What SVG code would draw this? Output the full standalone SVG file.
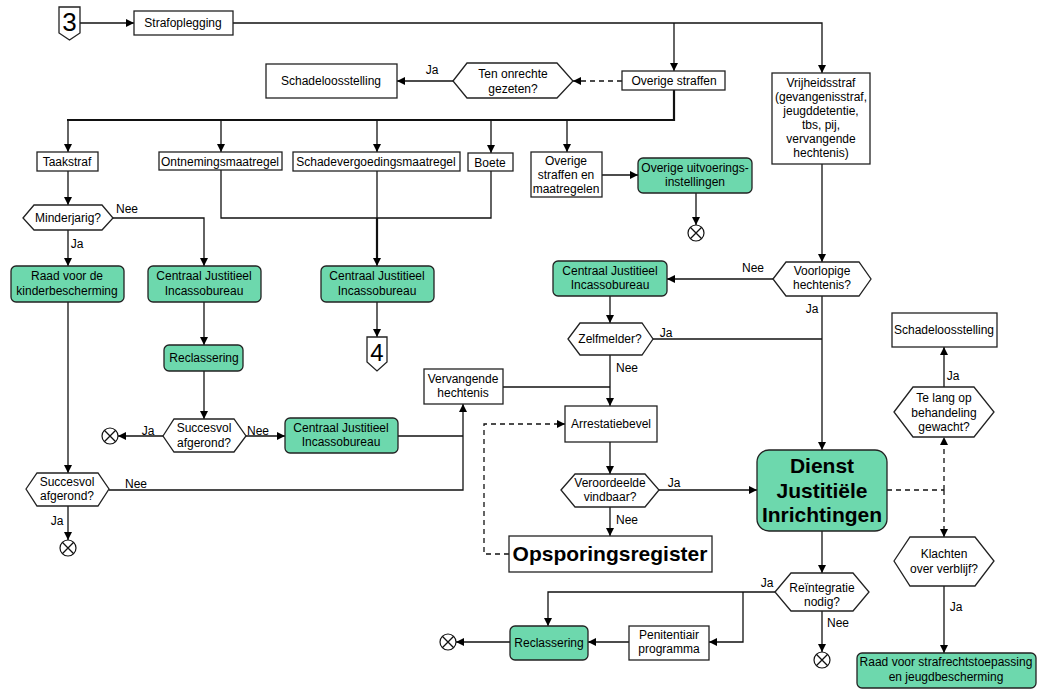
<svg xmlns="http://www.w3.org/2000/svg" width="1046" height="689" viewBox="0 0 1046 689">
<defs>
<marker id="a" viewBox="0 0 10 10" refX="10" refY="5" markerWidth="9" markerHeight="8" markerUnits="userSpaceOnUse" orient="auto"><path d="M0,0 L10,5 L0,10 Z" fill="#000"/></marker>
<style>
text{font-family:"Liberation Sans",Arial,sans-serif;font-size:12px;fill:#000;text-anchor:middle}
.b{fill:#fff;stroke:#222;stroke-width:1.3}
.g{fill:#6dd8ad;stroke:#222;stroke-width:1.3}
.h{fill:#fff;stroke:#222;stroke-width:1.3}
.c{fill:none;stroke:#111;stroke-width:1.3}
.t{fill:none;stroke:#111;stroke-width:2.2}
.d{fill:none;stroke:#111;stroke-width:1.3;stroke-dasharray:5,4}
.big{font-size:21px;font-weight:bold}
.num{font-size:26px}
.end{fill:#fff;stroke:#111;stroke-width:1.2}
</style>
</defs>
<rect width="1046" height="689" fill="#fff"/>
<g id="connectors">
<path class="c" d="M80,23 H134" marker-end="url(#a)"/>
<path class="c" d="M233,23 H822 V73" marker-end="url(#a)"/>
<path class="c" d="M674,23 V71" marker-end="url(#a)"/>
<path class="d" d="M622,81 H573" marker-end="url(#a)"/>
<path class="c" d="M453,81 H397" marker-end="url(#a)"/>
<path class="t" d="M674,90 V120 H67"/>
<path class="c" d="M68,120 V152" marker-end="url(#a)"/>
<path class="c" d="M221,120 V152" marker-end="url(#a)"/>
<path class="c" d="M377,120 V152" marker-end="url(#a)"/>
<path class="c" d="M491,120 V153" marker-end="url(#a)"/>
<path class="c" d="M567,120 V152" marker-end="url(#a)"/>
<path class="c" d="M602,175 H638" marker-end="url(#a)"/>
<path class="c" d="M696,193 V225" marker-end="url(#a)"/>
<path class="c" d="M68,171 V205" marker-end="url(#a)"/>
<path class="c" d="M68,230 V266" marker-end="url(#a)"/>
<path class="c" d="M113,218 H204 V266" marker-end="url(#a)"/>
<path class="c" d="M221,170 V218 H491 V171"/>
<path class="c" d="M377,171 V218"/>
<path class="t" d="M377,218 V262"/>
<path class="c" d="M377,260 V266" marker-end="url(#a)"/>
<path class="c" d="M377,302 V337" marker-end="url(#a)"/>
<path class="c" d="M204,302 V345" marker-end="url(#a)"/>
<path class="c" d="M204,371 V419" marker-end="url(#a)"/>
<path class="c" d="M163,436 H118" marker-end="url(#a)"/>
<path class="c" d="M246,436 H285" marker-end="url(#a)"/>
<path class="c" d="M398,436 H463"/>
<path class="c" d="M109,490 H463 V404" marker-end="url(#a)"/>
<path class="c" d="M68,302 V473" marker-end="url(#a)"/>
<path class="c" d="M68,506 V540" marker-end="url(#a)"/>
<path class="c" d="M503,387 H610"/>
<path class="c" d="M610,355 V406" marker-end="url(#a)"/>
<path class="c" d="M822,164 V262" marker-end="url(#a)"/>
<path class="c" d="M773,279 H667" marker-end="url(#a)"/>
<path class="c" d="M822,296 V450" marker-end="url(#a)"/>
<path class="c" d="M610,296 V323" marker-end="url(#a)"/>
<path class="c" d="M653,339 H822"/>
<path class="c" d="M610,442 V474" marker-end="url(#a)"/>
<path class="c" d="M659,490 H757" marker-end="url(#a)"/>
<path class="c" d="M610,507 V536" marker-end="url(#a)"/>
<path class="d" d="M509,554 H484 V424 H565" marker-end="url(#a)"/>
<path class="d" d="M887,490 H944"/>
<path class="d" d="M944,490 V437" marker-end="url(#a)"/>
<path class="d" d="M944,490 V537" marker-end="url(#a)"/>
<path class="c" d="M944,387 V347" marker-end="url(#a)"/>
<path class="c" d="M944,586 V653" marker-end="url(#a)"/>
<path class="c" d="M822,531 V573" marker-end="url(#a)"/>
<path class="c" d="M775,592 H548 V626" marker-end="url(#a)"/>
<path class="c" d="M743,592 V642 H709" marker-end="url(#a)"/>
<path class="c" d="M629,642 H588" marker-end="url(#a)"/>
<path class="c" d="M510,642 H456" marker-end="url(#a)"/>
<path class="c" d="M822,611 V652" marker-end="url(#a)"/>
<text x="432" y="74">Ja</text>
<text x="127" y="213">Nee</text>
<text x="77" y="248">Ja</text>
<text x="753" y="272">Nee</text>
<text x="812" y="313">Ja</text>
<text x="666" y="337">Ja</text>
<text x="627" y="372">Nee</text>
<text x="674" y="487">Ja</text>
<text x="627" y="524">Nee</text>
<text x="148" y="435">Ja</text>
<text x="258" y="435">Nee</text>
<text x="136" y="488">Nee</text>
<text x="57" y="525">Ja</text>
<text x="953" y="380">Ja</text>
<text x="767" y="587">Ja</text>
<text x="838" y="627">Nee</text>
<text x="956" y="611">Ja</text>
</g>
<g id="n3"><path class="b" d="M59,7 H80 V33 L69.5,40 L59,33 Z"/><text class="num" x="69.5" y="31">3</text></g>
<g id="strafoplegging"><rect class="b" x="134" y="11" width="99" height="24"/><text x="183" y="27">Strafoplegging</text></g>
<g id="schadeloos1"><rect class="b" x="266" y="64" width="131" height="34"/><text x="331" y="85">Schadeloosstelling</text></g>
<g id="tenonrechte"><path class="h" d="M453,81 L467,63 H557 L573,81 L557,98 H467 Z"/><text x="513" y="78">Ten onrechte</text><text x="513" y="93">gezeten?</text></g>
<g id="overigestraffen"><rect class="b" x="622" y="71" width="103" height="19"/><text x="674" y="85">Overige straffen</text></g>
<g id="vrijheidsstraf"><rect class="b" x="772" y="73" width="98" height="91"/>
<text x="821" y="87">Vrijheidsstraf</text><text x="821" y="101">(gevangenisstraf,</text><text x="821" y="115">jeugddetentie,</text><text x="821" y="129">tbs, pij,</text><text x="821" y="143">vervangende</text><text x="821" y="157">hechtenis)</text></g>
<g id="taakstraf"><rect class="b" x="37" y="152" width="61" height="19"/><text x="67" y="166">Taakstraf</text></g>
<g id="ontnemings"><rect class="b" x="159" y="152" width="123" height="18"/><text x="220" y="166">Ontnemingsmaatregel</text></g>
<g id="schadevergoedings"><rect class="b" x="293" y="152" width="167" height="19"/><text x="376" y="166">Schadevergoedingsmaatregel</text></g>
<g id="boete"><rect class="b" x="468" y="153" width="45" height="18"/><text x="490" y="167">Boete</text></g>
<g id="overigemaatregelen"><rect class="b" x="531" y="152" width="71" height="45"/><text x="566" y="165">Overige</text><text x="566" y="179">straffen en</text><text x="566" y="193">maatregelen</text></g>
<g id="overigeuitvoering"><rect class="g" x="638" y="158" width="114" height="35" rx="5"/><text x="695" y="172">Overige uitvoerings-</text><text x="695" y="186">instellingen</text></g>
<g id="end1"><circle class="end" cx="696" cy="233" r="8"/><path class="c" d="M690.3,227.3 L701.7,238.7 M701.7,227.3 L690.3,238.7"/></g>
<g id="minderjarig"><path class="h" d="M23,218 L34,205 H102 L113,218 L102,230 H34 Z"/><text x="68" y="222">Minderjarig?</text></g>
<g id="raadkinder"><rect class="g" x="11" y="266" width="113" height="36" rx="5"/><text x="67" y="280">Raad voor de</text><text x="67" y="295">kinderbescherming</text></g>
<g id="cjib1"><rect class="g" x="148" y="266" width="113" height="36" rx="5"/><text x="204" y="280">Centraal Justitieel</text><text x="204" y="295">Incassobureau</text></g>
<g id="cjib2"><rect class="g" x="321" y="266" width="113" height="36" rx="5"/><text x="377" y="280">Centraal Justitieel</text><text x="377" y="295">Incassobureau</text></g>
<g id="n4"><path class="b" d="M367,337 H387 V362 L377,371 L367,362 Z"/><text class="num" x="377" y="361" style="font-size:24px">4</text></g>
<g id="cjib3"><rect class="g" x="553" y="261" width="114" height="35" rx="5"/><text x="610" y="275">Centraal Justitieel</text><text x="610" y="289">Incassobureau</text></g>
<g id="voorlopige"><path class="h" d="M773,279 L786,262 H859 L871,279 L859,296 H786 Z"/><text x="822" y="275">Voorlopige</text><text x="822" y="289">hechtenis?</text></g>
<g id="reclassering1"><rect class="g" x="164" y="345" width="79" height="26" rx="5"/><text x="204" y="362">Reclassering</text></g>
<g id="succesvol1"><path class="h" d="M163,436 L174,419 H234 L246,436 L234,452 H174 Z"/><text x="204" y="432">Succesvol</text><text x="204" y="447">afgerond?</text></g>
<g id="end2"><circle class="end" cx="110" cy="436" r="8"/><path class="c" d="M104.3,430.3 L115.7,441.7 M115.7,430.3 L104.3,441.7"/></g>
<g id="cjib4"><rect class="g" x="285" y="418" width="113" height="35" rx="5"/><text x="341" y="432">Centraal Justitieel</text><text x="341" y="446">Incassobureau</text></g>
<g id="vervangende"><rect class="b" x="424" y="369" width="79" height="35"/><text x="463" y="383">Vervangende</text><text x="463" y="397">hechtenis</text></g>
<g id="succesvol2"><path class="h" d="M26,489 L37,473 H98 L109,489 L98,506 H37 Z"/><text x="67" y="486">Succesvol</text><text x="67" y="500">afgerond?</text></g>
<g id="end3"><circle class="end" cx="68" cy="548" r="8"/><path class="c" d="M62.3,542.3 L73.7,553.7 M73.7,542.3 L62.3,553.7"/></g>
<g id="zelfmelder"><path class="h" d="M568,339 L580,323 H642 L653,339 L642,355 H580 Z"/><text x="610" y="343">Zelfmelder?</text></g>
<g id="arrestatiebevel"><rect class="b" x="565" y="406" width="92" height="36"/><text x="611" y="428">Arrestatiebevel</text></g>
<g id="veroordeelde"><path class="h" d="M561,490 L575,474 H645 L659,490 L645,507 H575 Z"/><text x="610" y="487">Veroordeelde</text><text x="610" y="501">vindbaar?</text></g>
<g id="opsporingsregister"><rect class="b" x="509" y="536" width="203" height="36"/><text class="big" x="610" y="561">Opsporingsregister</text></g>
<g id="dji"><rect class="g" x="757" y="450" width="130" height="81" rx="12"/><text class="big" x="822" y="473">Dienst</text><text class="big" x="822" y="498">Justitiële</text><text class="big" x="822" y="522">Inrichtingen</text></g>
<g id="schadeloos2"><rect class="b" x="892" y="313" width="105" height="34"/><text x="944" y="334">Schadeloosstelling</text></g>
<g id="telang"><path class="h" d="M894,412 L913,387 H974 L994,412 L974,437 H913 Z"/><text x="944" y="402">Te lang op</text><text x="944" y="417">behandeling</text><text x="944" y="431">gewacht?</text></g>
<g id="klachten"><path class="h" d="M894,561 L910,537 H975 L994,561 L975,586 H910 Z"/><text x="944" y="558">Klachten</text><text x="944" y="573">over verblijf?</text></g>
<g id="rsj"><rect class="g" x="857" y="653" width="179" height="35" rx="5"/><text x="946" y="666">Raad voor strafrechtstoepassing</text><text x="946" y="681">en jeugdbescherming</text></g>
<g id="reintegratie"><path class="h" d="M775,592 L791,573 H853 L869,592 L853,611 H791 Z"/><text x="822" y="592">Reïntegratie</text><text x="822" y="606">nodig?</text></g>
<g id="end4"><circle class="end" cx="822" cy="660" r="8"/><path class="c" d="M816.3,654.3 L827.7,665.7 M827.7,654.3 L816.3,665.7"/></g>
<g id="penitentiair"><rect class="b" x="629" y="626" width="80" height="34"/><text x="669" y="639">Penitentiair</text><text x="669" y="653">programma</text></g>
<g id="reclassering2"><rect class="g" x="510" y="626" width="78" height="34" rx="5"/><text x="549" y="647">Reclassering</text></g>
<g id="end5"><circle class="end" cx="448" cy="642" r="8"/><path class="c" d="M442.3,636.3 L453.7,647.7 M453.7,636.3 L442.3,647.7"/></g>
</svg>
